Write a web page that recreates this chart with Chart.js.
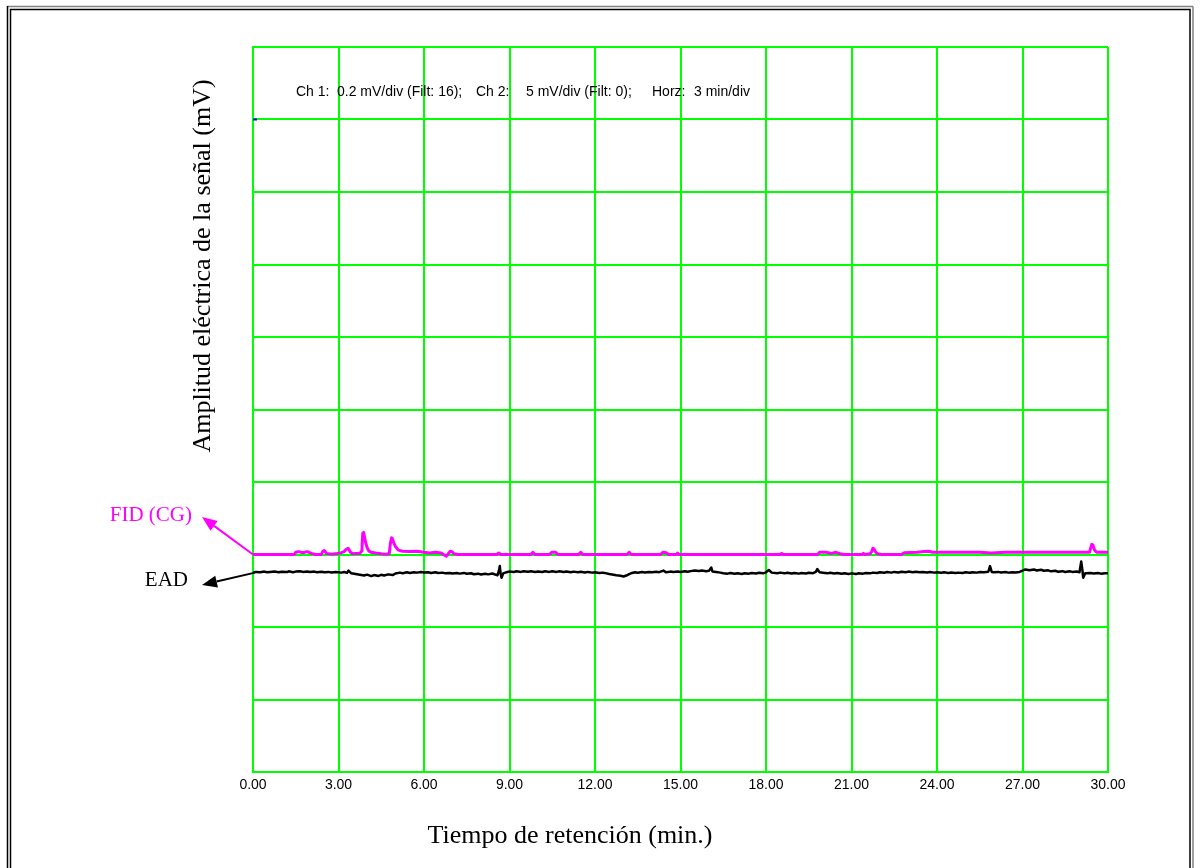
<!DOCTYPE html>
<html lang="es">
<head>
<meta charset="utf-8">
<title>EAD / FID</title>
<script src="https://cdn.jsdelivr.net/npm/chart.js@4.4.1/dist/chart.umd.min.js"></script>
<style>
  html, body { margin: 0; padding: 0; background: #fff; overflow: hidden; }
  canvas { display: block; }
</style>
</head>
<body>
<canvas id="graficoEAD" width="1203" height="868"></canvas>
<script>
// marcas del eje de tiempo (min)
const tiemposEje = [0, 3, 6, 9, 12, 15, 18, 21, 24, 27, 30];

// FID (CG), canal 1: [min, mV sobre la linea base]
const trazaFID = [
  [0, 0], [1.45, 0], [1.5, 0.006], [1.6, 0.008], [1.75, 0.005], [1.9, 0.008], [2.05, 0.003],
  [2.2, 0], [2.4, 0], [2.45, 0.009], [2.5, 0.011], [2.58, 0.003], [2.75, 0.001], [2.95, 0.003], [3.1, 0.005],
  [3.2, 0.008], [3.28, 0.015], [3.34, 0.017], [3.42, 0.006], [3.5, 0.002], [3.6, 0.003], [3.75, 0.003],
  [3.82, 0.01], [3.85, 0.058], [3.88, 0.061], [3.91, 0.05], [3.95, 0.034], [4.0, 0.02], [4.06, 0.01], [4.14, 0.006],
  [4.3, 0.004], [4.5, 0.002], [4.65, 0.001], [4.78, 0.002], [4.82, 0.03], [4.86, 0.046], [4.89, 0.044],
  [4.94, 0.032], [5.0, 0.022], [5.1, 0.012], [5.25, 0.009], [5.5, 0.008], [5.75, 0.009],
  [6.0, 0.006], [6.2, 0.004], [6.4, 0.006], [6.6, 0.004], [6.78, -0.005], [6.85, 0.002],
  [6.92, 0.009], [6.98, 0.008], [7.05, 0.002], [7.2, 0], [8.55, 0], [8.62, 0.004], [8.7, 0], [9.75, 0],
  [9.82, 0.006], [9.9, 0], [10.4, 0], [10.48, 0.006], [10.62, 0.006], [10.7, 0], [11.42, 0],
  [11.5, 0.006], [11.58, 0], [13.12, 0], [13.2, 0.006], [13.28, 0], [14.3, 0], [14.38, 0.006],
  [14.5, 0.005], [14.58, 0], [14.85, 0], [14.9, 0.004], [14.95, 0], [18.5, 0], [18.55, 0.003],
  [18.6, 0], [19.8, 0], [19.88, 0.006], [20.1, 0.006], [20.3, 0.003], [20.45, 0.006],
  [20.6, 0.002], [20.75, 0], [21.38, 0], [21.42, 0.003], [21.48, 0], [21.65, 0.002],
  [21.71, 0.008], [21.75, 0.017], [21.79, 0.015], [21.85, 0.006], [21.92, 0.002], [22.05, 0], [22.75, 0],
  [22.85, 0.005], [23.3, 0.006], [23.55, 0.008], [23.7, 0.009], [23.85, 0.006], [24.5, 0.006],
  [25.5, 0.006], [25.9, 0.004], [26.4, 0.006], [27, 0.006], [28, 0.006], [29, 0.006],
  [29.35, 0.006], [29.39, 0.017], [29.43, 0.028], [29.47, 0.026], [29.53, 0.012], [29.6, 0.006], [30, 0.006]
];

// EAD, canal 2: [min, mV]
const trazaEAD = [
  [0, 0.0], [0.1, 0.05], [0.25, 0.03], [0.4, 0.07], [0.5, 0.02], [0.6, 0.05], [0.75, 0.08],
  [0.9, 0.03], [1.0, 0.06], [1.2, 0.04], [1.25, 0.09], [1.4, 0.03], [1.5, 0.07], [1.65, 0.1],
  [1.75, 0.05], [1.9, 0.08], [2.0, 0.04], [2.15, 0.07], [2.25, 0.03], [2.4, 0.06], [2.5, 0.02],
  [2.65, 0.05], [2.75, 0.01], [2.9, 0.04], [3.0, 0.03], [3.1, 0.0], [3.2, 0.04], [3.3, -0.02],
  [3.35, 0.14], [3.45, -0.05], [3.6, -0.1], [3.75, -0.15], [3.9, -0.2], [4.0, -0.14],
  [4.15, -0.24], [4.25, -0.17], [4.4, -0.23], [4.5, -0.15], [4.6, -0.2], [4.75, -0.12],
  [4.9, -0.17], [5.0, -0.06], [5.15, 0.0], [5.25, -0.04], [5.4, 0.02], [5.5, -0.02],
  [5.65, 0.03], [5.75, 0.0], [5.9, 0.04], [6.0, 0.01], [6.15, 0.03], [6.25, -0.02], [6.4, 0.02],
  [6.5, -0.03], [6.65, 0.0], [6.75, -0.05], [6.9, -0.02], [7.0, -0.06], [7.15, -0.03],
  [7.25, -0.07], [7.4, -0.02], [7.5, -0.08], [7.65, -0.04], [7.75, -0.11], [7.9, -0.07],
  [8.0, -0.13], [8.15, -0.08], [8.25, -0.12], [8.4, -0.06], [8.5, -0.13], [8.58, -0.18],
  [8.63, 0.15], [8.66, 0.45], [8.69, -0.1], [8.72, -0.35], [8.78, -0.05], [8.9, 0.03],
  [9.0, 0.08], [9.15, 0.04], [9.25, 0.09], [9.4, 0.05], [9.5, 0.1], [9.65, 0.06], [9.75, 0.09],
  [9.9, 0.04], [10.0, 0.08], [10.15, 0.04], [10.25, 0.09], [10.4, 0.05], [10.5, 0.1],
  [10.65, 0.05], [10.75, 0.09], [10.9, 0.04], [11.0, 0.08], [11.15, 0.03], [11.25, 0.07],
  [11.4, 0.02], [11.5, 0.06], [11.65, 0.01], [11.75, 0.05], [11.9, 0.0], [12.0, 0.03],
  [12.15, -0.03], [12.25, 0.0], [12.4, -0.05], [12.5, -0.09], [12.65, -0.14], [12.75, -0.18],
  [12.9, -0.22], [13.0, -0.27], [13.1, -0.2], [13.2, -0.1], [13.3, -0.02], [13.4, 0.03],
  [13.5, -0.01], [13.65, 0.04], [13.75, 0.01], [13.9, 0.05], [14.0, 0.02], [14.15, 0.06],
  [14.25, 0.03], [14.4, 0.14], [14.5, 0.02], [14.65, 0.07], [14.75, 0.04], [14.9, 0.08],
  [15.0, 0.05], [15.15, 0.1], [15.25, 0.06], [15.4, 0.12], [15.5, 0.15], [15.65, 0.11],
  [15.75, 0.14], [15.9, 0.1], [16.0, 0.13], [16.08, 0.35], [16.12, 0.08], [16.25, 0.04],
  [16.4, 0.0], [16.5, -0.04], [16.65, -0.07], [16.75, -0.03], [16.9, -0.08], [17.0, -0.05],
  [17.15, -0.09], [17.25, -0.04], [17.4, -0.07], [17.5, -0.02], [17.65, -0.06], [17.75, -0.01],
  [17.9, -0.05], [18.0, 0.02], [18.1, 0.18], [18.2, 0.0], [18.4, -0.04], [18.5, 0.0],
  [18.65, -0.05], [18.75, -0.01], [18.9, -0.06], [19.0, -0.02], [19.15, -0.07], [19.25, -0.03],
  [19.4, -0.06], [19.5, -0.01], [19.65, -0.04], [19.75, 0.05], [19.8, 0.25], [19.88, 0.02],
  [20.0, -0.01], [20.15, -0.05], [20.25, -0.01], [20.4, -0.06], [20.5, -0.03], [20.65, -0.08],
  [20.75, -0.04], [20.9, -0.09], [21.0, -0.05], [21.15, -0.1], [21.25, -0.04], [21.4, -0.07],
  [21.5, -0.02], [21.65, -0.05], [21.75, 0.0], [21.9, -0.03], [22.0, 0.02], [22.15, -0.01],
  [22.25, 0.04], [22.4, 0.0], [22.5, 0.05], [22.65, 0.01], [22.75, 0.06], [22.9, 0.02],
  [23.0, 0.07], [23.15, 0.03], [23.25, 0.06], [23.4, 0.02], [23.5, 0.05], [23.65, 0.01],
  [23.75, 0.04], [23.9, 0.0], [24.0, 0.03], [24.15, -0.01], [24.25, 0.02], [24.4, -0.02],
  [24.5, 0.01], [24.65, -0.03], [24.75, 0.0], [24.9, -0.02], [25.0, 0.02], [25.15, -0.01],
  [25.25, 0.03], [25.4, 0.0], [25.5, 0.04], [25.65, 0.02], [25.8, 0.06], [25.86, 0.45],
  [25.92, 0.05], [26.0, 0.02], [26.15, 0.05], [26.25, 0.01], [26.4, 0.04], [26.5, 0.0],
  [26.65, 0.03], [26.75, 0.01], [26.9, 0.05], [27.0, 0.14], [27.1, 0.22], [27.25, 0.16],
  [27.4, 0.22], [27.5, 0.15], [27.65, 0.2], [27.75, 0.13], [27.9, 0.16], [28.0, 0.09],
  [28.15, 0.13], [28.25, 0.06], [28.4, 0.1], [28.5, 0.04], [28.65, 0.09], [28.75, 0.05],
  [28.9, 0.08], [29.0, 0.03], [29.06, 0.76], [29.1, 0.2], [29.13, -0.35], [29.2, -0.05],
  [29.4, -0.02], [29.5, -0.06], [29.65, -0.03], [29.75, -0.07], [29.9, -0.04], [30.0, -0.05]
];

// textos de la escala del registrador
const textoEscala = ['Ch 1:', '0.2 mV/div (Filt: 16);', 'Ch 2:', '5 mV/div (Filt: 0);', 'Horz:', '3 min/div'];
const posEscala = [296, 337, 476, 526, 652, 694];

function flecha(ctx, x1, y1, x2, y2, color) {
  const ang = Math.atan2(y2 - y1, x2 - x1);
  const largo = 15, ancho = 6;
  const bx = x2 - largo * Math.cos(ang), by = y2 - largo * Math.sin(ang);
  ctx.strokeStyle = color;
  ctx.fillStyle = color;
  ctx.lineWidth = 2;
  ctx.beginPath();
  ctx.moveTo(x1, y1);
  ctx.lineTo(bx, by);
  ctx.stroke();
  ctx.beginPath();
  ctx.moveTo(x2, y2);
  ctx.lineTo(bx + ancho * Math.sin(ang), by - ancho * Math.cos(ang));
  ctx.lineTo(bx - ancho * Math.sin(ang), by + ancho * Math.cos(ang));
  ctx.closePath();
  ctx.fill();
}

const anotaciones = {
  id: 'anotaciones',
  afterDraw(chart) {
    const ctx = chart.ctx;
    const sx = chart.scales.x, sy = chart.scales.y;
    ctx.save();

    // marco doble alrededor de la figura
    ctx.lineWidth = 1.5;
    ctx.strokeStyle = '#808080';
    ctx.beginPath(); ctx.moveTo(7, 6.5); ctx.lineTo(1193, 6.5); ctx.stroke();
    ctx.strokeStyle = '#000';
    ctx.beginPath(); ctx.moveTo(7.5, 6); ctx.lineTo(7.5, 868); ctx.stroke();
    ctx.beginPath(); ctx.moveTo(10.5, 868); ctx.lineTo(10.5, 9.5); ctx.lineTo(1190, 9.5); ctx.lineTo(1190, 868); ctx.stroke();
    ctx.strokeStyle = '#808080';
    ctx.beginPath(); ctx.moveTo(1193, 6.5); ctx.lineTo(1193, 868); ctx.stroke();

    // marca azul del canal
    ctx.fillStyle = '#0000ff';
    ctx.fillRect(sx.getPixelForValue(0), sy.getPixelForValue(9) - 1, 4, 2);

    // escala de canales
    ctx.fillStyle = '#000';
    ctx.font = '14px "Liberation Sans", Arial, sans-serif';
    ctx.textAlign = 'left';
    ctx.textBaseline = 'middle';
    textoEscala.forEach((t, i) => ctx.fillText(t, posEscala[i], 92));

    // titulos de los ejes
    ctx.font = '26px "Liberation Serif", "Times New Roman", serif';
    ctx.textAlign = 'center';
    ctx.fillText('Tiempo de retención (min.)', 570, 836);
    ctx.save();
    ctx.translate(203, 266);
    ctx.rotate(-Math.PI / 2);
    ctx.fillText('Amplitud eléctrica de la señal (mV)', 0, 0);
    ctx.restore();

    // etiquetas de las trazas con flechas
    ctx.font = '21px "Liberation Serif", "Times New Roman", serif';
    ctx.textAlign = 'right';
    ctx.fillStyle = '#ff00ff';
    ctx.fillText('FID (CG)', 192, 515);
    ctx.fillStyle = '#000';
    ctx.fillText('EAD', 188, 580);

    const x0 = sx.getPixelForValue(0);
    flecha(ctx, x0, chart.scales.yFid.getPixelForValue(trazaFID[0][1]), 202, 517, '#ff00ff');
    flecha(ctx, x0 + 2, chart.scales.yEad.getPixelForValue(trazaEAD[0][1]), 202, 585, '#000');

    ctx.restore();
  }
};

const verde = '#00ff00';

new Chart(document.getElementById('graficoEAD').getContext('2d'), {
  type: 'line',
  data: {
    datasets: [
      {
        label: 'FID (CG)',
        data: trazaFID.map(p => ({ x: p[0], y: p[1] })),
        yAxisID: 'yFid',
        borderColor: '#ff00ff',
        borderWidth: 3,
        borderJoinStyle: 'round',
        pointRadius: 0,
        tension: 0
      },
      {
        label: 'EAD',
        data: trazaEAD.map(p => ({ x: p[0], y: p[1] })),
        yAxisID: 'yEad',
        borderColor: '#000000',
        borderWidth: 2.5,
        borderJoinStyle: 'round',
        pointRadius: 0,
        tension: 0
      }
    ]
  },
  options: {
    responsive: false,
    animation: false,
    layout: { padding: { left: 253, top: 47, right: 95, bottom: 66 } },
    plugins: {
      legend: { display: false },
      tooltip: { enabled: false }
    },
    scales: {
      x: {
        type: 'linear',
        min: 0,
        max: 30,
        afterBuildTicks: s => { s.ticks = tiemposEje.map(v => ({ value: v })); },
        afterFit: s => { s.height = 30; },
        ticks: {
          callback: v => v.toFixed(2),
          color: '#000',
          font: { family: '"Liberation Sans", Arial, sans-serif', size: 14 },
          padding: 5,
          maxRotation: 0
        },
        grid: { color: verde, lineWidth: 2, drawTicks: false },
        border: { color: verde, width: 2 }
      },
      y: {
        min: 0,
        max: 10,
        afterFit: s => { s.width = 0; },
        ticks: { stepSize: 1, display: false },
        grid: { color: verde, lineWidth: 2, drawTicks: false },
        border: { color: verde, width: 2 }
      },
      // 0.2 mV/div
      yFid: { display: false, min: -0.6, max: 1.4 },
      // 5 mV/div
      yEad: { display: false, min: -13.75, max: 36.25 }
    }
  },
  plugins: [anotaciones]
});
</script>
</body>
</html>
